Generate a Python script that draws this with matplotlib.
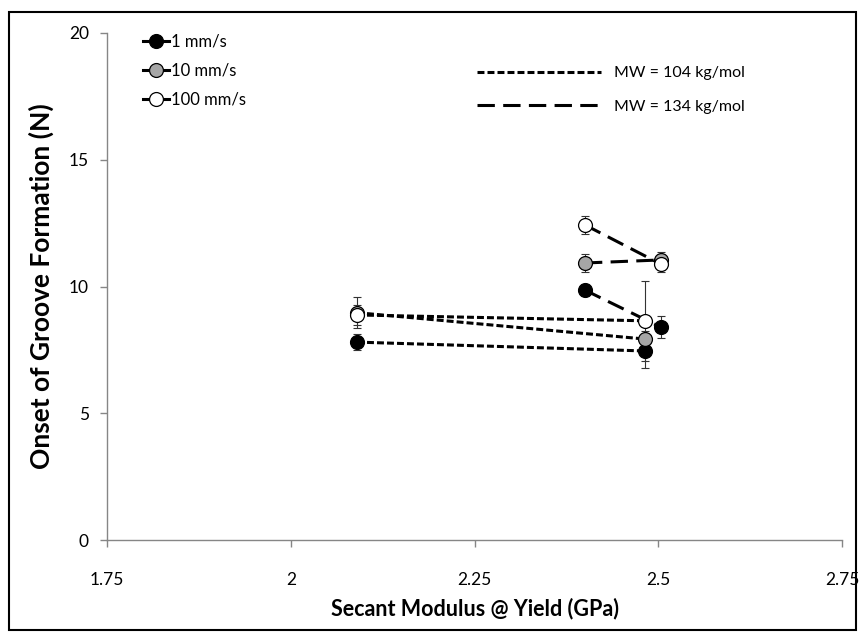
import matplotlib
matplotlib.use("Agg")
import matplotlib.pyplot as plt
from matplotlib.lines import Line2D
from matplotlib.patches import Rectangle

plt.rcParams['font.family'] = ['Lato', 'DejaVu Sans']
plt.rcParams['lines.scale_dashes'] = False

# secant modulus (GPa) for the two molecular weights
x_mw104 = [2.09, 2.482]
x_mw134 = [2.40, 2.503]

speeds = ["1 mm/s", "10 mm/s", "100 mm/s"]
face_colors = ["black", "#a6a6a6", "white"]

# onset of groove formation (N), one pair per speed
y_mw104 = [[7.81, 7.46], [8.97, 7.93], [8.88, 8.65]]
err_mw104 = [[0.33, 0.68], [0.6, 0.3], [0.4, 1.58]]
y_mw134 = [[9.86, 8.40], [10.93, 11.05], [12.43, 10.89]]
err_mw134 = [[0.25, 0.44], [0.35, 0.3], [0.35, 0.3]]

mw_labels = ["MW = 104 kg/mol", "MW = 134 kg/mol"]
short_dash = (0, (5.0, 2.2))
long_dash = (0, (12.5, 6.0))

fig = plt.figure(figsize=(8.63, 6.34), dpi=100)
ax = fig.add_axes([0.124, 0.148, 0.852, 0.800])

for i in range(3):
    ax.errorbar(x_mw104, y_mw104[i], yerr=err_mw104[i], fmt="none",
                ecolor="#333333", elinewidth=0.8, capsize=3, capthick=0.8, zorder=2)
    ax.errorbar(x_mw134, y_mw134[i], yerr=err_mw134[i], fmt="none",
                ecolor="#333333", elinewidth=0.8, capsize=3, capthick=0.8, zorder=2)
    ax.plot(x_mw104, y_mw104[i], color="black", lw=2.2, linestyle=short_dash,
            marker="o", markersize=10, markerfacecolor=face_colors[i],
            markeredgecolor="black", markeredgewidth=0.9, zorder=3)
    ax.plot(x_mw134, y_mw134[i], color="black", lw=2.2, linestyle=long_dash,
            marker="o", markersize=10, markerfacecolor=face_colors[i],
            markeredgecolor="black", markeredgewidth=0.9, zorder=3)

ax.set_xlim(1.75, 2.75)
ax.set_ylim(0, 20)
ax.set_xticks([1.75, 2, 2.25, 2.5, 2.75])
ax.set_xticklabels(["1.75", "2", "2.25", "2.5", "2.75"])
ax.set_yticks([0, 5, 10, 15, 20])

for side in ["top", "right"]:
    ax.spines[side].set_visible(False)
for side in ["left", "bottom"]:
    ax.spines[side].set_color("#868686")
    ax.spines[side].set_linewidth(1.0)
ax.tick_params(axis="both", colors="#868686", labelcolor="black",
               labelsize=12.5, length=5, width=1.0)
ax.tick_params(axis="x", pad=18)
ax.tick_params(axis="y", pad=8)

ax.set_xlabel("Secant Modulus @ Yield (GPa)", fontsize=15.5, fontweight="bold", labelpad=7)
ax.set_ylabel("Onset of Groove Formation (N)", fontsize=19, fontweight="bold", labelpad=11)

speed_handles = [Line2D([], [], color="black", lw=2.2, marker="o", markersize=10,
                        markerfacecolor=c, markeredgecolor="black", markeredgewidth=0.9)
                 for c in face_colors]
leg1 = ax.legend(speed_handles, speeds, loc="upper left", bbox_to_anchor=(0.028, 1.028),
                 frameon=False, fontsize=12, handlelength=1.6, handletextpad=0.1,
                 labelspacing=0.78, numpoints=1)
ax.add_artist(leg1)

mw_handles = [Line2D([], [], color="black", lw=2.2, linestyle=short_dash),
              Line2D([], [], color="black", lw=2.2, linestyle=long_dash)]
ax.legend(mw_handles, mw_labels, loc="upper left", bbox_to_anchor=(0.483, 0.963),
          frameon=False, fontsize=11.5, handlelength=7.8, handletextpad=0.8,
          labelspacing=1.2)

fig.patches.append(Rectangle((0.011, 0.006), 0.981, 0.975, transform=fig.transFigure,
                             fill=False, edgecolor="black", linewidth=1.5))

fig.savefig("out.png", dpi=100)
